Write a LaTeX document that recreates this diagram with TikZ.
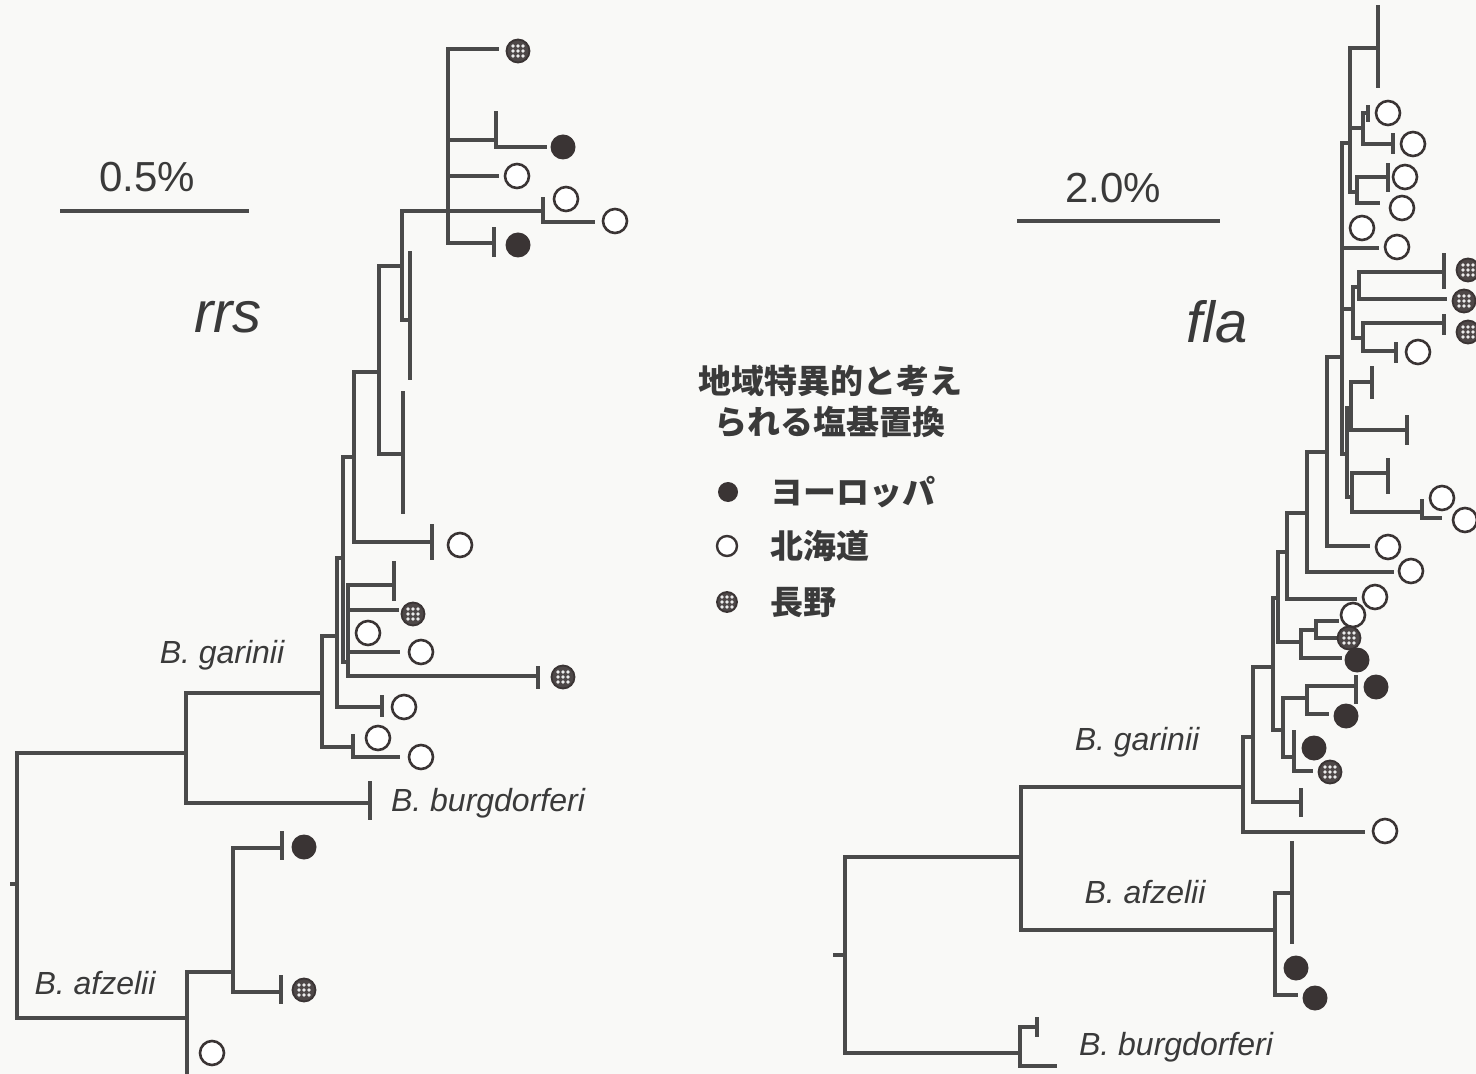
\documentclass[tikz,border=0pt]{standalone}
\usepackage{fontspec}
\setmainfont{Liberation Sans}
\newfontfamily\jp{Noto Sans CJK JP}
\definecolor{lnc}{HTML}{4A4A4A}
\definecolor{txc}{HTML}{3A3A3A}
\definecolor{dkc}{HTML}{3A3434}
\definecolor{bgc}{HTML}{F9F9F7}
\tikzset{
  br/.style={draw=lnc, line width=1.75pt, line cap=rect},
  opendot/.style={circle, draw=dkc, fill=white, line width=1.3pt, minimum size=12pt, inner sep=0pt},
  blackdot/.style={circle, fill=dkc, minimum size=12.5pt, inner sep=0pt},
  nagano/.style={circle, draw=dkc, fill=dkc!90, line width=0.9pt, minimum size=11.5pt, inner sep=0pt,
    path picture={\foreach \a in {-2.5,0,2.5}{\foreach \b in {-2.5,0,2.5}{
      \fill[white!85!gray] ([shift={(\a pt,\b pt)}]path picture bounding box.center) circle (0.95pt);}}}},
  lgdot/.style={circle, inner sep=0pt, minimum size=10pt},
  sp/.style={text=txc, font=\fontsize{16}{19}\selectfont\itshape, inner sep=0pt},
  pct/.style={text=txc, font=\fontsize{21}{25}\selectfont, inner sep=0pt},
  gene/.style={text=txc, font=\fontsize{29}{34}\selectfont\itshape, inner sep=0pt},
  jpt/.style={text=txc, font=\jp\bfseries\fontsize{16.5}{20.5}\selectfont, inner sep=0pt},
}
\begin{document}
\begin{tikzpicture}[x=0.5pt,y=-0.5pt]
\fill[bgc] (0,0) rectangle (1476,1074);
\useasboundingbox (0,0) rectangle (1476,1074);

% ---------------- rrs tree ----------------
\draw[br] (497,49) -- (448,49) -- (448,243) -- (494,243);
\draw[br] (494,229) -- (494,255);
\draw[br] (448,140) -- (496,140);
\draw[br] (496,113) -- (496,147) -- (545,147);
\draw[br] (448,176) -- (497,176);
\draw[br] (402,211) -- (543,211);
\draw[br] (543,199) -- (543,222) -- (593,222);
\draw[br] (402,211) -- (402,320) -- (410,320);
\draw[br] (410,253) -- (410,378);
\draw[br] (402,266) -- (379,266) -- (379,454) -- (403,454);
\draw[br] (403,393) -- (403,512);
\draw[br] (379,372) -- (354,372) -- (354,542) -- (432,542);
\draw[br] (432,526) -- (432,558);
\draw[br] (354,457) -- (343,457) -- (343,662) -- (348,662);
\draw[br] (348,585) -- (348,676) -- (538,676);
\draw[br] (538,668) -- (538,687);
\draw[br] (348,585) -- (394,585);
\draw[br] (394,563) -- (394,599);
\draw[br] (348,610) -- (397,610);
\draw[br] (348,652) -- (398,652);
\draw[br] (343,558) -- (337,558) -- (337,707) -- (382,707);
\draw[br] (382,697) -- (382,715);
\draw[br] (337,636) -- (322,636) -- (322,747) -- (353,747);
\draw[br] (353,736) -- (353,757) -- (398,757);
\draw[br] (322,693) -- (186,693) -- (186,803) -- (370,803);
\draw[br] (370,783) -- (370,818);
\draw[br] (186,753) -- (17,753) -- (17,1018) -- (187,1018);
\draw[br] (12,884) -- (17,884);
\draw[br] (187,972) -- (187,1074);
\draw[br] (187,972) -- (233,972);
\draw[br] (282,848) -- (233,848) -- (233,992) -- (281,992);
\draw[br] (282,833) -- (282,858);
\draw[br] (281,977) -- (281,1002);

\node[nagano]   (l1)  at (518,51) {};
\node[blackdot] (l2)  at (563,147) {};
\node[opendot]  (l3)  at (517,176) {};
\node[opendot]  (l4)  at (566,199) {};
\node[opendot]  (l5)  at (615,221) {};
\node[blackdot] (l6)  at (518,245) {};
\node[opendot]  (l7)  at (460,545) {};
\node[nagano]   (l8)  at (413,614) {};
\node[opendot]  (l9)  at (368,633) {};
\node[opendot]  (l10) at (421,652) {};
\node[nagano]   (l11) at (563,677) {};
\node[opendot]  (l12) at (404,707) {};
\node[opendot]  (l13) at (378,738) {};
\node[opendot]  (l14) at (421,757) {};
\node[blackdot] (l15) at (304,847) {};
\node[nagano]   (l16) at (304,990) {};
\node[opendot]  (l17) at (212,1053) {};

% ---------------- fla tree ----------------
\draw[br] (1378,7) -- (1378,86);
\draw[br] (1378,48) -- (1350,48) -- (1350,192) -- (1357,192);
\draw[br] (1350,128) -- (1363,128);
\draw[br] (1368,113) -- (1363,113) -- (1363,144) -- (1393,144);
\draw[br] (1368,107) -- (1368,120);
\draw[br] (1393,135) -- (1393,152);
\draw[br] (1388,177) -- (1357,177) -- (1357,203) -- (1378,203);
\draw[br] (1388,165) -- (1388,190);
\draw[br] (1350,143) -- (1342,143) -- (1342,454) -- (1347,454);
\draw[br] (1342,248) -- (1377,248);
\draw[br] (1342,309) -- (1353,309);
\draw[br] (1359,287) -- (1353,287) -- (1353,338) -- (1363,338);
\draw[br] (1444,272) -- (1359,272) -- (1359,299) -- (1445,299);
\draw[br] (1444,255) -- (1444,287);
\draw[br] (1444,323) -- (1363,323) -- (1363,351) -- (1396,351);
\draw[br] (1444,316) -- (1444,333);
\draw[br] (1396,344) -- (1396,361);
\draw[br] (1342,357) -- (1327,357) -- (1327,546) -- (1368,546);
\draw[br] (1351,408) -- (1347,408) -- (1347,497) -- (1352,497);
\draw[br] (1372,382) -- (1351,382) -- (1351,430) -- (1407,430);
\draw[br] (1372,368) -- (1372,397);
\draw[br] (1407,417) -- (1407,443);
\draw[br] (1388,473) -- (1352,473) -- (1352,512) -- (1422,512);
\draw[br] (1388,460) -- (1388,492);
\draw[br] (1422,501) -- (1422,518) -- (1440,518);
\draw[br] (1327,452) -- (1307,452) -- (1307,572) -- (1392,572);
\draw[br] (1307,513) -- (1287,513) -- (1287,599) -- (1355,599);
\draw[br] (1287,552) -- (1278,552) -- (1278,642) -- (1301,642);
\draw[br] (1337,621) -- (1316,621) -- (1316,638) -- (1340,638);
\draw[br] (1316,630) -- (1301,630) -- (1301,658) -- (1340,658);
\draw[br] (1278,598) -- (1273,598) -- (1273,730) -- (1283,730);
\draw[br] (1307,698) -- (1283,698) -- (1283,757) -- (1294,757);
\draw[br] (1356,686) -- (1307,686) -- (1307,714) -- (1327,714);
\draw[br] (1356,677) -- (1356,702);
\draw[br] (1294,732) -- (1294,771) -- (1311,771);
\draw[br] (1273,667) -- (1253,667) -- (1253,802) -- (1301,802);
\draw[br] (1301,790) -- (1301,815);
\draw[br] (1253,737) -- (1243,737) -- (1243,832) -- (1363,832);
\draw[br] (1243,787) -- (1021,787) -- (1021,930) -- (1275,930);
\draw[br] (1292,893) -- (1275,893) -- (1275,995) -- (1296,995);
\draw[br] (1292,843) -- (1292,942);
\draw[br] (1021,857) -- (845,857) -- (845,1053) -- (1020,1053);
\draw[br] (835,955) -- (845,955);
\draw[br] (1037,1027) -- (1020,1027) -- (1020,1066) -- (1055,1066);
\draw[br] (1037,1019) -- (1037,1035);

\node[opendot]  (r1)  at (1388,113) {};
\node[opendot]  (r2)  at (1413,144) {};
\node[opendot]  (r3)  at (1405,177) {};
\node[opendot]  (r4)  at (1402,208) {};
\node[opendot]  (r5)  at (1362,228) {};
\node[opendot]  (r6)  at (1397,247) {};
\node[nagano]   (r7)  at (1468,270) {};
\node[nagano]   (r8)  at (1464,301) {};
\node[nagano]   (r9)  at (1468,332) {};
\node[opendot]  (r10) at (1418,352) {};
\node[opendot]  (r11) at (1442,498) {};
\node[opendot]  (r12) at (1465,520) {};
\node[opendot]  (r13) at (1388,547) {};
\node[opendot]  (r14) at (1411,571) {};
\node[opendot]  (r15) at (1375,597) {};
\node[opendot]  (r16) at (1353,615) {};
\node[nagano]   (r17) at (1349,638) {};
\node[blackdot] (r18) at (1357,660) {};
\node[blackdot] (r19) at (1376,687) {};
\node[blackdot] (r20) at (1346,716) {};
\node[blackdot] (r21) at (1314,748) {};
\node[nagano]   (r22) at (1330,772) {};
\node[opendot]  (r23) at (1385,831) {};
\node[blackdot] (r24) at (1296,968) {};
\node[blackdot] (r25) at (1315,998) {};

% ---------------- scale bars and labels ----------------
\draw[draw=lnc, line width=1.9pt] (60,211) -- (249,211);
\node[pct] (s1) at (147,177) {0.5\%};
\draw[draw=lnc, line width=1.9pt] (1017,221) -- (1220,221);
\node[pct] (s2) at (1113,188) {2.0\%};
\node[gene] (g1) at (228,317) {rrs};
\node[gene] (g2) at (1217,322) {fla};

\node[sp] (t1) at (222,655) {B. garinii};
\node[sp] (t2) at (488,803) {B. burgdorferi};
\node[sp] (t3) at (95,983) {B. afzelii};
\node[sp] (t4) at (1137,742) {B. garinii};
\node[sp] (t5) at (1145,892) {B. afzelii};
\node[sp] (t6) at (1176,1047) {B. burgdorferi};

% ---------------- legend ----------------
\node[jpt, align=center] (lt) at (830,401) {地域特異的と考え\\られる塩基置換};
\node[lgdot, fill=dkc] (k1) at (728,492) {};
\node[jpt, anchor=west] (k1t) at (770,492) {ヨーロッパ};
\node[lgdot, draw=dkc, line width=1.2pt, fill=white] (k2) at (727,546) {};
\node[jpt, anchor=west] (k2t) at (770,546) {北海道};
\node[nagano, minimum size=10pt] (k3) at (727,602) {};
\node[jpt, anchor=west] (k3t) at (770,602) {長野};
\end{tikzpicture}
\end{document}
